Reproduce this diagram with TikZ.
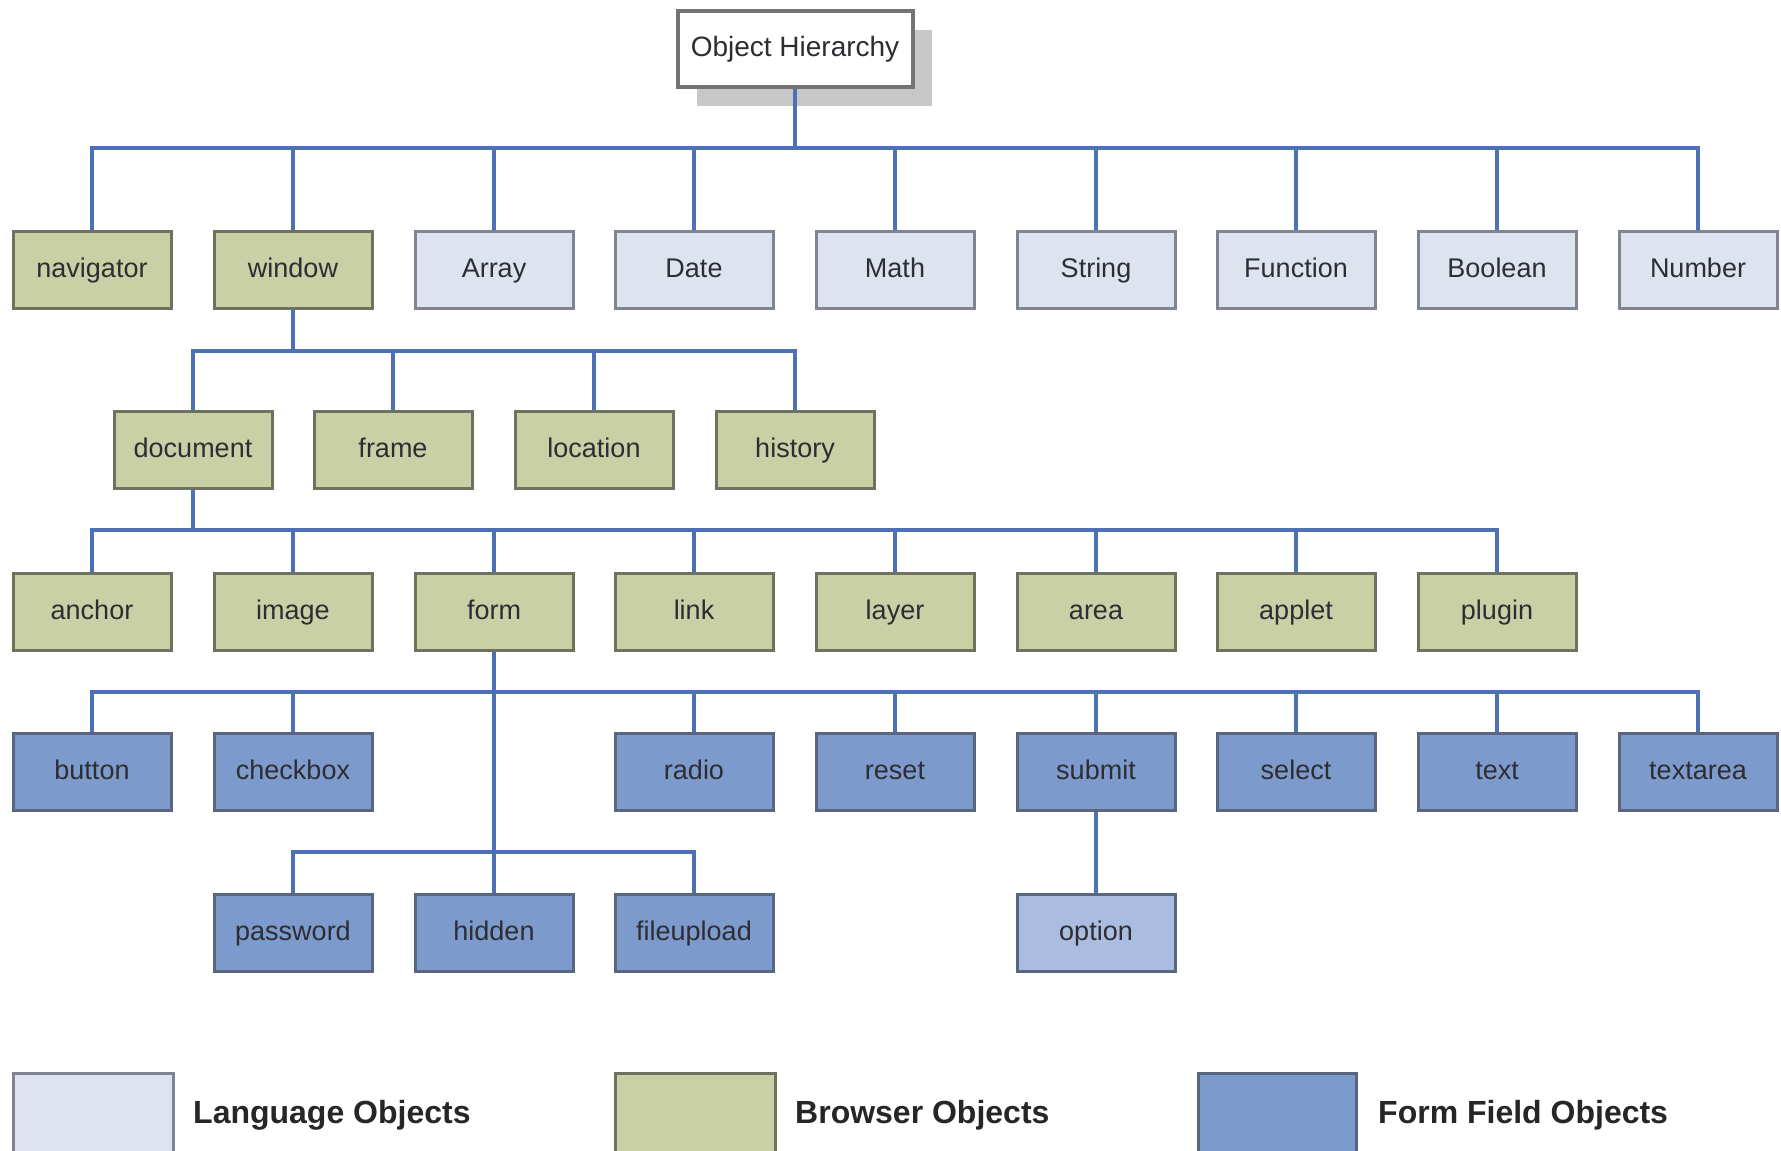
\documentclass[tikz,border=0pt]{standalone}
\usepackage{fontspec}
\setmainfont{Liberation Sans}
\usetikzlibrary{shadows}
\definecolor{langfill}{RGB}{221,228,240}
\definecolor{langdraw}{RGB}{128,133,145}
\definecolor{browfill}{RGB}{201,208,166}
\definecolor{browdraw}{RGB}{110,114,95}
\definecolor{fffill}{RGB}{125,154,205}
\definecolor{ffdraw}{RGB}{90,102,128}
\definecolor{optfill}{RGB}{170,188,224}
\definecolor{conncol}{RGB}{78,112,182}
\definecolor{txt}{RGB}{45,45,50}
\tikzset{
  box/.style={draw, line width=3pt, minimum width=158pt, minimum height=77pt, inner sep=0pt,
    text height=20pt, text depth=6pt,
    font=\fontsize{27}{32}\selectfont, text=txt},
  lang/.style={box, fill=langfill, draw=langdraw},
  brow/.style={box, fill=browfill, draw=browdraw},
  ffield/.style={box, fill=fffill, draw=ffdraw},
  opt/.style={box, fill=optfill, draw=ffdraw},
  conn/.style={draw=conncol, line width=4pt, line join=miter},
  legtext/.style={anchor=base west, inner sep=0pt, font=\fontsize{32}{38}\selectfont\bfseries, text=black!85}
}
\begin{document}
\begin{tikzpicture}[x=1pt,y=-1pt]
\useasboundingbox (0,0) rectangle (1781,1151);
\fill[white] (0,0) rectangle (1781,1151);

% top node
\node[draw=black!55, line width=4pt, fill=white, minimum width=235pt, minimum height=76pt, inner sep=0pt,
  text height=20pt, text depth=6pt,
  font=\fontsize{28}{32}\selectfont, text=txt,
  drop shadow={shadow xshift=19pt, shadow yshift=-19pt, fill=black!22, opacity=1}] (top) at (795,49) {Object Hierarchy};

% row 1
\node[brow] (nav) at (92,270) {navigator};
\node[brow] (win) at (293,270) {window};
\node[lang] (arr) at (494,270) {Array};
\node[lang] (dat) at (694,270) {Date};
\node[lang] (mat) at (895,270) {Math};
\node[lang] (str) at (1096,270) {String};
\node[lang] (fun) at (1296,270) {Function};
\node[lang] (boo) at (1497,270) {Boolean};
\node[lang] (num) at (1698,270) {Number};

% row 2
\node[brow] (doc) at (193,450) {document};
\node[brow] (fra) at (393,450) {frame};
\node[brow] (loc) at (594,450) {location};
\node[brow] (his) at (795,450) {history};

% row 3
\node[brow] (anc) at (92,612) {anchor};
\node[brow] (ima) at (293,612) {image};
\node[brow] (frm) at (494,612) {form};
\node[brow] (lin) at (694,612) {link};
\node[brow] (lay) at (895,612) {layer};
\node[brow] (are) at (1096,612) {area};
\node[brow] (app) at (1296,612) {applet};
\node[brow] (plu) at (1497,612) {plugin};

% row 4
\node[ffield] (but) at (92,772) {button};
\node[ffield] (che) at (293,772) {checkbox};
\node[ffield] (rad) at (694,772) {radio};
\node[ffield] (res) at (895,772) {reset};
\node[ffield] (sub) at (1096,772) {submit};
\node[ffield] (sel) at (1296,772) {select};
\node[ffield] (tex) at (1497,772) {text};
\node[ffield] (tea) at (1698,772) {textarea};

% row 5
\node[ffield] (pas) at (293,933) {password};
\node[ffield] (hid) at (494,933) {hidden};
\node[ffield] (fil) at (694,933) {fileupload};
\node[opt] (opn) at (1096,933) {option};

% connectors
\coordinate (b1) at (top.south |- 0,148);
\draw[conn] (top.south) -- (b1);
\foreach \c in {nav,win,arr,dat,mat,str,fun,boo,num} \draw[conn] (b1) -| (\c.north);

\coordinate (b2) at (win.south |- 0,351);
\draw[conn] (win.south) -- (b2);
\foreach \c in {doc,fra,loc,his} \draw[conn] (b2) -| (\c.north);

\coordinate (b3) at (doc.south |- 0,530);
\draw[conn] (doc.south) -- (b3);
\foreach \c in {anc,ima,frm,lin,lay,are,app,plu} \draw[conn] (b3) -| (\c.north);

\coordinate (b4) at (frm.south |- 0,692);
\coordinate (b5) at (frm.south |- 0,852);
\draw[conn] (frm.south) -- (hid.north);
\foreach \c in {but,che,rad,res,sub,sel,tex,tea} \draw[conn] (b4) -| (\c.north);
\foreach \c in {pas,fil} \draw[conn] (b5) -| (\c.north);

\draw[conn] (sub.south) -- (opn.north);

% legend
\draw[line width=3pt, draw=langdraw, fill=langfill] (13,1073) rectangle (173,1165);
\draw[line width=3pt, draw=browdraw, fill=browfill] (615,1073) rectangle (775,1165);
\draw[line width=3pt, draw=ffdraw, fill=fffill] (1198,1073) rectangle (1356,1165);
\node[legtext] (l1) at (193,1123) {Language Objects};
\node[legtext] (l2) at (795,1123) {Browser Objects};
\node[legtext] (l3) at (1378,1123) {Form Field Objects};
\end{tikzpicture}
\end{document}
